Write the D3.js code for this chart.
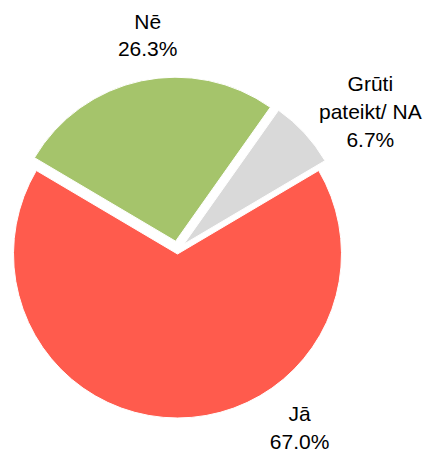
<!DOCTYPE html>
<html>
<head>
<meta charset="utf-8">
<script src="https://cdn.jsdelivr.net/npm/d3@7"></script>
<style>
  html, body { margin: 0; padding: 0; background: #fff; }
  svg { display: block; }
</style>
</head>
<body>
<svg id="chart"></svg>
<script>
// Data
const categories = ["Jā", "Nē", "Grūti pateikt/ NA"];
const labelLines = [["Jā"], ["Nē"], ["Grūti", "pateikt/ NA"]];
const values = [67.0, 26.3, 6.7];
const colors = ["#FF5B4D", "#A5C46B", "#D9D9D9"];

const width = 425;
const height = 453;

// Layout
const center = { x: 177.5, y: 250 };
const radius = 164;
const startDeg = 59.4;
// explode distance per slice (px), along slice mid angle
const explode = [4, 9, 8.6];
// label block centres, polar from pie centre (deg clockwise from top, px)
const labelPolar = [
	{ a: 145.5, r: 215.6 },
	{ a: 352.1, r: 217 },
	{ a: 54.3, r: 237.5 }
];
const lineH = 27.7;

const rad = (d) => (d * Math.PI) / 180;

const svg = d3.select("#chart").attr("width", width).attr("height", height);

const pie = d3
	.pie()
	.sort(null)
	.value((d) => d)
	.startAngle(rad(startDeg))
	.endAngle(rad(startDeg + 360));

const arcs = pie(values);
const arc = d3.arc().innerRadius(0).outerRadius(radius);

const g = svg.append("g").attr("transform", `translate(${center.x}, ${center.y})`);

g.selectAll("path")
	.data(arcs)
	.enter()
	.append("path")
	.attr("d", arc)
	.attr("fill", (d, i) => colors[i])
	.attr("stroke", "#fff")
	.attr("stroke-width", 1)
	.attr("transform", (d, i) => {
		const mid = (d.startAngle + d.endAngle) / 2;
		const dx = Math.sin(mid) * explode[i];
		const dy = -Math.cos(mid) * explode[i];
		return `translate(${dx}, ${dy})`;
	});

// Labels: name lines + percentage
const labels = g
	.selectAll("text")
	.data(arcs)
	.enter()
	.append("text")
	.attr("font-family", "'Liberation Sans', Arial, sans-serif")
	.attr("font-size", 21)
	.attr("fill", "#000")
	.attr("text-anchor", "middle")
	.each(function (d, i) {
		const p = labelPolar[i];
		const cx = Math.sin(rad(p.a)) * p.r;
		const cy = -Math.cos(rad(p.a)) * p.r;
		const lines = labelLines[i].concat([d3.format(".1f")(values[i]) + "%"]);
		const n = lines.length;
		const t = d3.select(this);
		lines.forEach((line, k) => {
			t.append("tspan")
				.attr("x", cx)
				.attr("y", cy + (k - (n - 1) / 2) * lineH + 7.5)
				.text(line);
		});
	});
</script>
</body>
</html>
